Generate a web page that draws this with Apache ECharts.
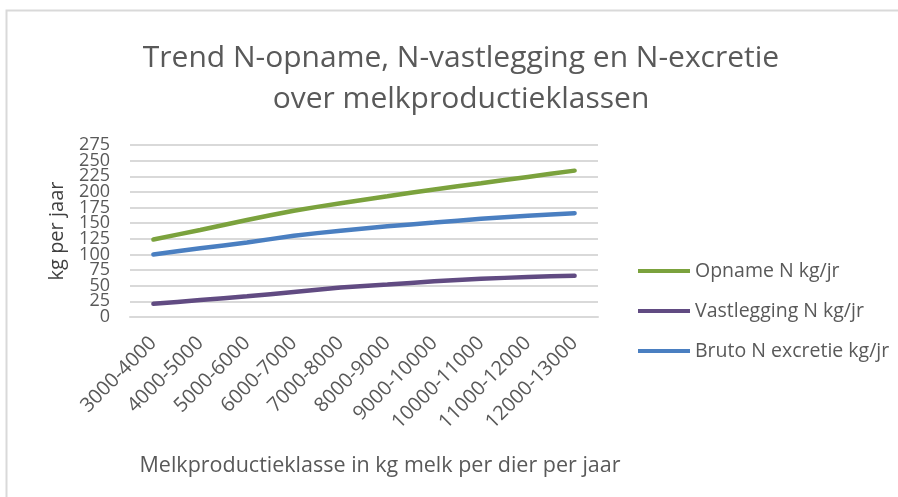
<!DOCTYPE html>
<html>
<head>
<meta charset="utf-8">
<title>Trend N-opname</title>
<script src="https://cdn.jsdelivr.net/npm/echarts@6/dist/echarts.min.js"></script>
<style>
  html, body { margin: 0; padding: 0; background: #fff; }
  #chart { width: 898px; height: 497px; }
</style>
</head>
<body>
<div id="chart"></div>
<script>
// categories: milk production class (kg milk per cow per year)
const klassen = ['3000-4000', '4000-5000', '5000-6000', '6000-7000', '7000-8000',
  '8000-9000', '9000-10000', '10000-11000', '11000-12000', '12000-13000']

// values, kg N per year
const opname = [124, 139, 155, 170, 182, 193, 204, 214, 224, 234]
const vastlegging = [21, 27, 33, 40, 47, 52, 57, 61, 64, 66]
const excretie = [100, 110, 119, 130, 138, 145, 151, 157, 162, 166]

const yMin = 0
const yMax = 275
const yStep = 25

const textColor = '#595959'
const font = 'Open Sans'

const chart = echarts.init(document.getElementById('chart'))

const lineSeries = (name, data, color) => ({
  name: name,
  type: 'line',
  data: data,
  symbol: 'none',
  smooth: 0.15,
  lineStyle: { color: color, width: 4.5, cap: 'round' },
  itemStyle: { color: color }
})

const yLabel = { fontSize: 18, color: textColor, margin: 20 }

chart.setOption({
  animation: false,
  textStyle: { fontFamily: font },
  graphic: [{
    type: 'rect',
    shape: { x: 6.5, y: 10.5, width: 1000, height: 600 },
    style: { fill: 'none', stroke: '#d9d9d9', lineWidth: 2 },
    silent: true
  }],
  title: {
    text: 'Trend N-opname, N-vastlegging en N-excretie\nover melkproductieklassen',
    left: 456,
    top: 33,
    textAlign: 'center',
    textStyle: { fontFamily: font, fontSize: 30, fontWeight: 'normal', color: textColor, lineHeight: 41 }
  },
  legend: {
    orient: 'vertical',
    left: 633,
    top: 256,
    itemWidth: 52,
    itemHeight: 4,
    itemGap: 20,
    icon: 'rect',
    textStyle: { fontFamily: font, fontSize: 19.5, color: textColor }
  },
  grid: { left: 130, right: 300, top: 145, bottom: 180 },
  xAxis: {
    type: 'category',
    data: klassen,
    boundaryGap: true,
    name: 'Melkproductieklasse in kg melk per dier per jaar',
    nameLocation: 'middle',
    nameGap: 138,
    nameTextStyle: { fontFamily: font, fontSize: 21.5, color: textColor, padding: [0, 0, 0, 32] },
    axisLine: { lineStyle: { color: '#d9d9d9', width: 2 } },
    axisTick: { show: false },
    axisLabel: { rotate: 45, fontSize: 20, color: textColor, margin: 23, interval: 0 }
  },
  yAxis: [
    {
      // inner ticks; echarts drops the end labels when they crowd, so those go on the second axis
      type: 'value',
      min: yMin,
      max: yMax,
      interval: yStep,
      name: 'kg per jaar',
      nameLocation: 'middle',
      nameGap: 63,
      nameRotate: 90,
      nameTextStyle: { fontFamily: font, fontSize: 20, color: '#404040' },
      axisLine: { show: false },
      axisTick: { show: false },
      axisLabel: Object.assign({}, yLabel, { showMinLabel: false, showMaxLabel: false }),
      splitLine: { lineStyle: { color: '#d9d9d9', width: 2 } }
    },
    {
      type: 'value',
      position: 'left',
      min: yMin,
      max: yMax,
      interval: yStep,
      axisLine: { show: false },
      axisTick: { show: false },
      splitLine: { show: false },
      axisLabel: Object.assign({}, yLabel, {
        showMinLabel: true,
        showMaxLabel: true,
        formatter: v => (v === yMin || v === yMax) ? String(v) : ''
      })
    }
  ],
  series: [
    lineSeries('Opname N kg/jr', opname, '#7ba23d'),
    lineSeries('Vastlegging N kg/jr', vastlegging, '#614b82'),
    lineSeries('Bruto N excretie kg/jr', excretie, '#4a7fc1')
  ]
})
</script>
</body>
</html>
